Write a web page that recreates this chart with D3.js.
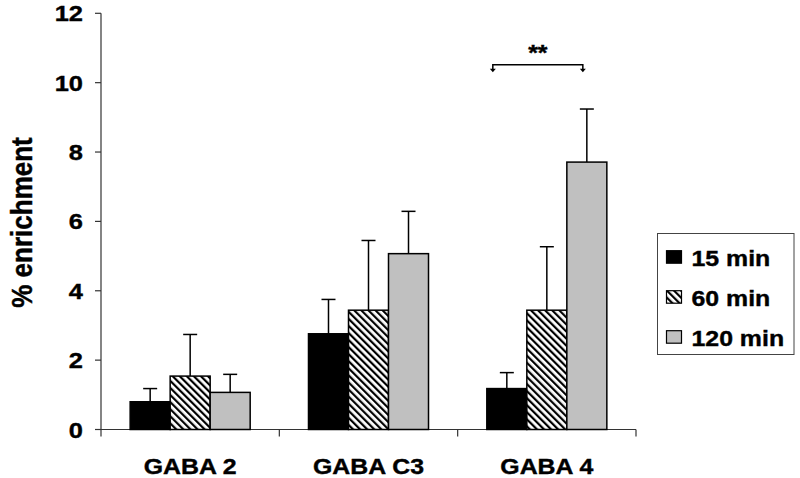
<!DOCTYPE html>
<html><head><meta charset="utf-8">
<script src="https://cdn.jsdelivr.net/npm/d3@7"></script>
<style>body{margin:0;background:#fff}text{font-family:"Liberation Sans",Arial,sans-serif;font-weight:bold;fill:#000;stroke:#000;stroke-width:0.4px}</style>
</head><body><svg id="c" width="800" height="478"></svg>
<script>
const categories = ["GABA 2", "GABA C3", "GABA 4"];
const seriesNames = ["15 min", "60 min", "120 min"];
const means15 = [0.80, 2.76, 1.18];
const sd15 = [0.38, 0.99, 0.46];
const means60 = [1.54, 3.44, 3.44];
const sd60 = [1.20, 2.01, 1.83];
const means120 = [1.07, 5.07, 7.71];
const sd120 = [0.52, 1.22, 1.53];
const yTicks = [0, 2, 4, 6, 8, 10, 12];
const sigLabel = "**";
const sigLevel = 10.52;

(function(){
const series = [
  {name: seriesNames[0], means: means15, sd: sd15, fill: "#000"},
  {name: seriesNames[1], means: means60, sd: sd60, fill: "url(#hatch)"},
  {name: seriesNames[2], means: means120, sd: sd120, fill: "#c0c0c0"}
];
const SX = 1.13;
const svg = d3.select("#c");
const defs = svg.append("defs");
const pat = defs.append("pattern").attr("id","hatch").attr("patternUnits","userSpaceOnUse")
  .attr("width",5).attr("height",5).attr("patternTransform","rotate(-45)");
pat.append("rect").attr("width",5).attr("height",5).attr("fill","#fff");
pat.append("rect").attr("x",0).attr("width",2.2).attr("height",5).attr("fill","#000");

const pl = 101, pr = 636, pt = 13.3, pb = 429.5;
const y = d3.scaleLinear().domain([0,12]).range([pb, pt]);
const x0 = d3.scaleBand().domain(categories).range([pl,pr]).paddingInner(0.327).paddingOuter(0.1635);
const x1 = d3.scaleBand().domain(seriesNames).range([0, x0.bandwidth()]);

function stext(g, x, yy, txt, size, anchor) {
  return g.append("text").attr("transform", `translate(${x},${yy}) scale(${SX},1)`)
    .attr("text-anchor", anchor).attr("font-size", size).text(txt);
}

svg.append("line").attr("x1",pl).attr("x2",pl).attr("y1",pt).attr("y2",pb).attr("stroke","#333").attr("stroke-width",1.2);
svg.append("line").attr("x1",pl).attr("x2",pr).attr("y1",pb).attr("y2",pb).attr("stroke","#333").attr("stroke-width",1.2);
yTicks.forEach(t => {
  svg.append("line").attr("x1",pl-6).attr("x2",pl).attr("y1",y(t)).attr("y2",y(t)).attr("stroke","#333").attr("stroke-width",1.2);
  stext(svg, 83, y(t)+8, String(t), 22.5, "end");
});
const bounds = categories.map(c => x0(c) - x0.step()*x0.paddingInner()/2).concat([pr]);
bounds.forEach(b => {
  svg.append("line").attr("x1",b).attr("x2",b).attr("y1",pb).attr("y2",pb+7).attr("stroke","#333").attr("stroke-width",1.2);
});
categories.forEach(c => stext(svg, x0(c)+x0.bandwidth()/2, 474, c, 22, "middle"));

svg.append("text").attr("transform", `translate(32,222.5) scale(${SX},1) rotate(-90)`)
  .attr("text-anchor","middle").attr("font-size",26).text("% enrichment");

categories.forEach((c, i) => {
  series.forEach(s => {
    const bx = x0(c) + x1(s.name), bw = x1.bandwidth();
    const cx = bx + bw/2;
    const top1 = y(s.means[i] + s.sd[i]);
    svg.append("line").attr("x1",cx).attr("x2",cx).attr("y1",y(s.means[i])).attr("y2",top1).attr("stroke","#000").attr("stroke-width",1.5);
    svg.append("line").attr("x1",cx-7).attr("x2",cx+7).attr("y1",top1).attr("y2",top1).attr("stroke","#000").attr("stroke-width",1.5);
    svg.append("rect").attr("x",bx).attr("y",y(s.means[i])).attr("width",bw).attr("height",y(0)-y(s.means[i]))
      .attr("fill",s.fill).attr("stroke","#000").attr("stroke-width",1.5);
  });
});

const g4 = categories[2];
const bl = x0(g4) + 6;
const br = x0(g4) + x1(seriesNames[2]) + x1.bandwidth()/2 - 4;
const by = y(sigLevel), tip = y(sigLevel) + 7.5;
svg.append("path").attr("d",`M${bl},${tip-2}V${by}H${br}V${tip-2}`).attr("fill","none").attr("stroke","#000").attr("stroke-width",1.5);
[bl, br].forEach(px => svg.append("path").attr("d",`M${px-3},${tip-3.5}L${px+3},${tip-3.5}L${px},${tip}Z`).attr("fill","#000"));
stext(svg, (bl+br)/2, 60, sigLabel, 22, "middle");

svg.append("rect").attr("x",657.5).attr("y",233.5).attr("width",136.5).attr("height",121).attr("fill","#fff").attr("stroke","#444").attr("stroke-width",1);
series.forEach((s, k) => {
  const ry = 250.7 + k*40;
  svg.append("rect").attr("x",666.5).attr("y",ry).attr("width",15).attr("height",12.5).attr("fill",s.fill).attr("stroke","#000").attr("stroke-width",1.2);
  stext(svg, 691.5, ry+14.8, s.name, 22, "start");
});
})();
</script></body></html>
